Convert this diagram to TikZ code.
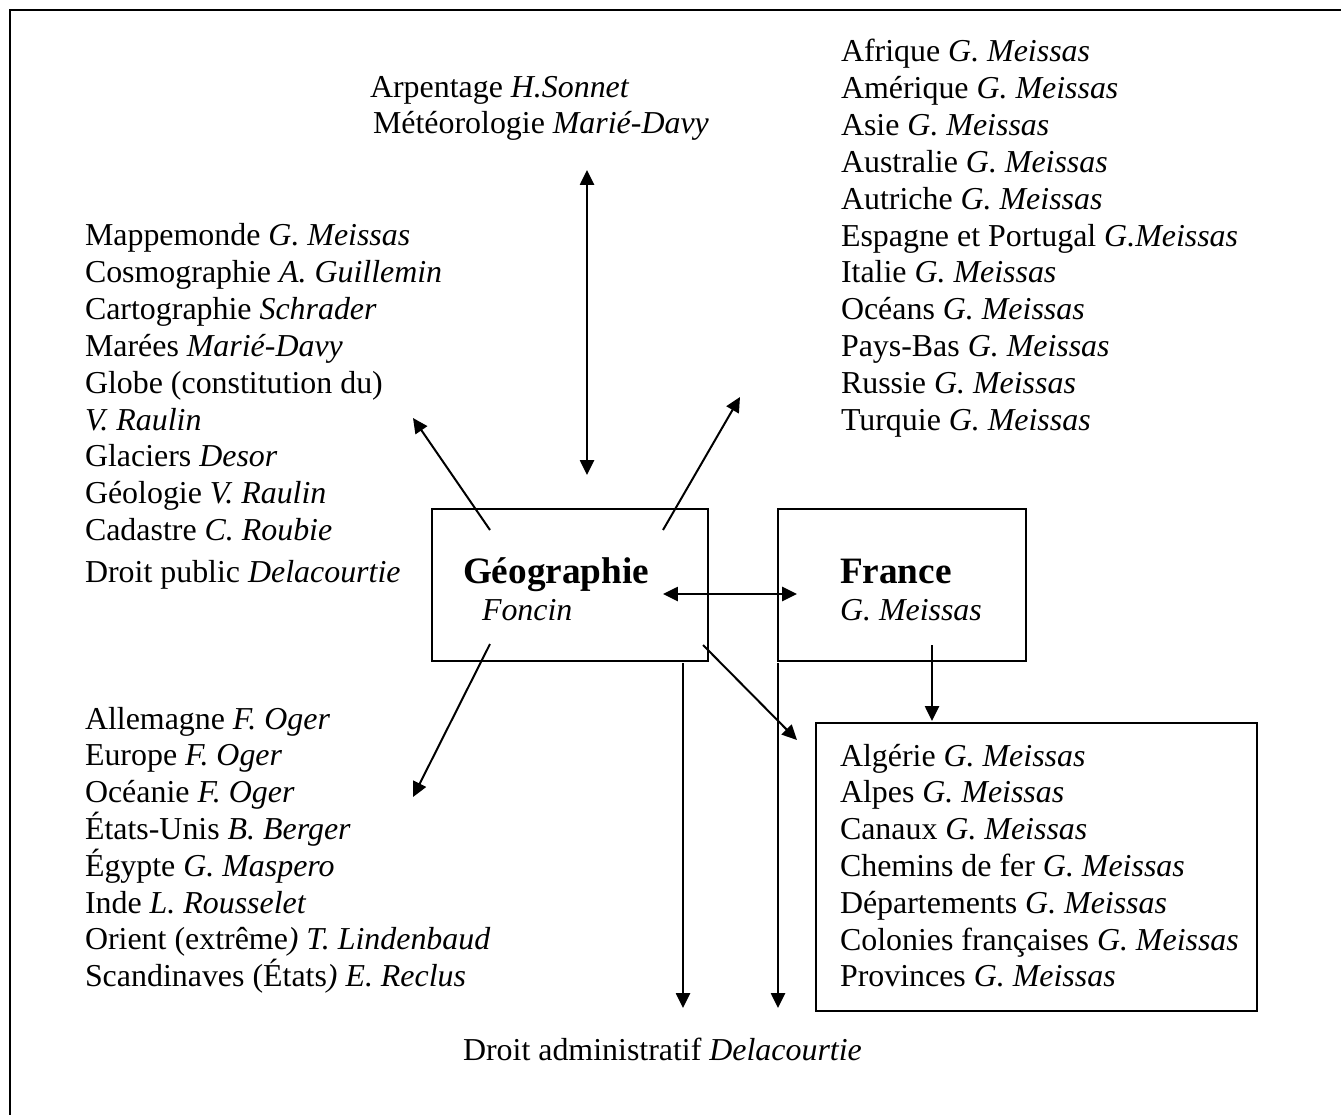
\documentclass[tikz,border=0pt]{standalone}
\usepackage{fontspec}
\setmainfont{Liberation Serif}
\usetikzlibrary{arrows.meta}
\newcommand\linestack[1]{\vtop{\baselineskip=13.84pt\lineskiplimit=-20pt\lineskip=0pt #1}}
\begin{document}
\begin{tikzpicture}[x=0.376pt,y=-0.376pt,
  every node/.style={inner sep=0pt, outer sep=0pt, font=\fontsize{12}{13.84}\selectfont},
  txt/.style={anchor=base west},
  head/.style={txt, font=\fontsize{14}{16}\selectfont\bfseries},
  boxnode/.style={draw, line width=0.75pt, minimum width=#1},
  frame/.style={draw, line width=0.75pt},
  arr/.style={-{Triangle[length=5.6pt,width=5.3pt]}, line width=0.75pt},
  darr/.style={{Triangle[length=5.6pt,width=5.3pt]}-{Triangle[length=5.6pt,width=5.3pt]}, line width=0.75pt}]
\useasboundingbox (0,0) rectangle (1341,1115);
\clip (0,0) rectangle (1341,1115);
\draw[frame] (10,10) rectangle (1400,1200);

% boxes
\node[boxnode=103.8pt, minimum height=57.2pt] (geo) at (570,585) {};
\node[boxnode=93.2pt, minimum height=57.2pt] (fra) at (902,585) {};
\node[boxnode=165.8pt, minimum height=108.3pt] (frlist) at (1036.5,867) {};

% box texts
\node[head] (geot) at (463,583) {Géographie};
\node[txt] (geoa) at (482,620) {\textit{Foncin}};
\node[head] (frat) at (840,583) {France};
\node[txt] (fraa) at (840,620) {\textit{G. Meissas}};

% top
\node[txt] (top1) at (370,98) {Arpentage \textit{H.Sonnet}};
\node[txt] (top2) at (373,134) {Météorologie \textit{Marié-Davy}};

% left upper list
\node[txt] (ulist) at (85,246) {\linestack{%
\hbox{Mappemonde \textit{G. Meissas}}%
\hbox{Cosmographie \textit{A. Guillemin}}%
\hbox{Cartographie \textit{Schrader}}%
\hbox{Marées \textit{Marié-Davy}}%
\hbox{Globe (constitution du)}%
\hbox{\textit{V. Raulin}}%
\hbox{Glaciers \textit{Desor}}%
\hbox{Géologie \textit{V. Raulin}}%
\hbox{Cadastre \textit{C. Roubie}}}};
\node[txt] (droitpub) at (85,582) {Droit public \textit{Delacourtie}};

% right upper list
\node[txt] (rlist) at (841,62) {\linestack{%
\hbox{Afrique \textit{G. Meissas}}%
\hbox{Amérique \textit{G. Meissas}}%
\hbox{Asie \textit{G. Meissas}}%
\hbox{Australie \textit{G. Meissas}}%
\hbox{Autriche \textit{G. Meissas}}%
\hbox{Espagne et Portugal \textit{G.Meissas}}%
\hbox{Italie \textit{G. Meissas}}%
\hbox{Océans \textit{G. Meissas}}%
\hbox{Pays-Bas \textit{G. Meissas}}%
\hbox{Russie \textit{G. Meissas}}%
\hbox{Turquie \textit{G. Meissas}}}};

% left lower list
\node[txt] (llist) at (85,729) {\linestack{%
\hbox{Allemagne \textit{F. Oger}}%
\hbox{Europe \textit{F. Oger}}%
\hbox{Océanie \textit{F. Oger}}%
\hbox{États-Unis \textit{B. Berger}}%
\hbox{Égypte \textit{G. Maspero}}%
\hbox{Inde \textit{L. Rousselet}}%
\hbox{Orient (extrême\textit{) T. Lindenbaud}}%
\hbox{Scandinaves (États\textit{) E. Reclus}}}};

% France list in box
\node[txt] (flist) at (840,766) {\linestack{%
\hbox{Algérie \textit{G. Meissas}}%
\hbox{Alpes \textit{G. Meissas}}%
\hbox{Canaux \textit{G. Meissas}}%
\hbox{Chemins de fer \textit{G. Meissas}}%
\hbox{Départements \textit{G. Meissas}}%
\hbox{Colonies françaises \textit{G. Meissas}}%
\hbox{Provinces \textit{G. Meissas}}}};

% bottom
\node[txt] (droitadm) at (463,1060) {Droit administratif \textit{Delacourtie}};

% connector end points
\coordinate (vt) at (587,170);
\coordinate (vb) at (587,475);
\coordinate (ul0) at (490,530);
\coordinate (ul1) at (413,418);
\coordinate (ur0) at (663,530);
\coordinate (ur1) at (740,397);
\coordinate (ll0) at (490,644);
\coordinate (ll1) at (413,797);
\coordinate (lr0) at (703,645);
\coordinate (lr1) at (797,740);
\coordinate (h0) at (663,594);
\coordinate (h1) at (797,594);
\coordinate (d10) at (683,663);
\coordinate (d11) at (683,1008);
\coordinate (d20) at (778,663);
\coordinate (d21) at (778,1008);
\coordinate (f0) at (932,645);
\coordinate (f1) at (932,721);

\draw[darr] (vt) -- (vb);
\draw[arr] (ul0) -- (ul1);
\draw[arr] (ur0) -- (ur1);
\draw[arr] (ll0) -- (ll1);
\draw[arr] (lr0) -- (lr1);
\draw[darr] (h0) -- (h1);
\draw[arr] (d10) -- (d11);
\draw[arr] (d20) -- (d21);
\draw[arr] (f0) -- (f1);
\end{tikzpicture}
\end{document}
